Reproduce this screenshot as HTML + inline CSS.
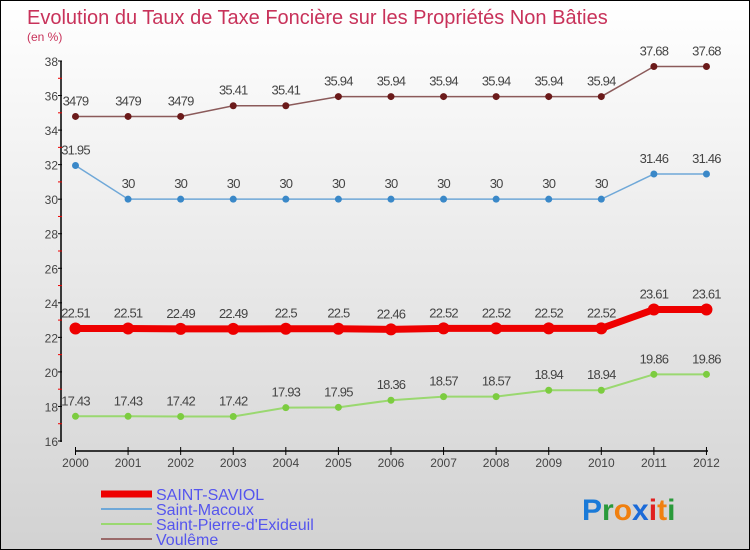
<!DOCTYPE html>
<html><head><meta charset="utf-8"><style>
body{margin:0}
#c{position:relative;width:748px;height:548px;border:1px solid #000;background:linear-gradient(#fff,#d2d2d2);font-family:"Liberation Sans",sans-serif;overflow:hidden}
</style></head><body>
<div id="c">
<svg id="s" width="748" height="548"></svg>
</div>
<script>
const years=[2000,2001,2002,2003,2004,2005,2006,2007,2008,2009,2010,2011,2012];
const saintSaviol=[22.51,22.51,22.49,22.49,22.5,22.5,22.46,22.52,22.52,22.52,22.52,23.61,23.61];
const saintMacoux=[31.95,30,30,30,30,30,30,30,30,30,30,31.46,31.46];
const saintPierre=[17.43,17.43,17.42,17.42,17.93,17.95,18.36,18.57,18.57,18.94,18.94,19.86,19.86];
const vouleme=[34.79,34.79,34.79,35.41,35.41,35.94,35.94,35.94,35.94,35.94,35.94,37.68,37.68];
const yTicks=[16,18,20,22,24,26,28,30,32,34,36,38];
const labels={s:["22.51","22.51","22.49","22.49","22.5","22.5","22.46","22.52","22.52","22.52","22.52","23.61","23.61"],
m:["31.95","30","30","30","30","30","30","30","30","30","30","31.46","31.46"],
p:["17.43","17.43","17.42","17.42","17.93","17.95","18.36","18.57","18.57","18.94","18.94","19.86","19.86"],
v:["3479","3479","3479","35.41","35.41","35.94","35.94","35.94","35.94","35.94","35.94","37.68","37.68"]};
const NS="http://www.w3.org/2000/svg",svg=document.getElementById('s');
const X=i=>74.5+i*52.58, Y=v=>440-(v-16)*(380/22);
function el(t,a,p){const e=document.createElementNS(NS,t);for(const k in a)e.setAttribute(k,a[k]);(p||svg).appendChild(e);return e;}
function tx(x,y,s,a){const e=el('text',Object.assign({x:x,y:y},a));e.textContent=s;return e;}
let t=tx(26,23,"Evolution du Taux de Taxe Foncière sur les Propriétés Non Bâties",{fill:"#c8325a","font-size":"20"});


t=tx(26,40,"(en %)",{fill:"#c8325a","font-size":"12"});


let ax=el('line',{x1:60,y1:60,x2:60,y2:441,stroke:"#000","stroke-width":1.5});


yTicks.forEach((v,i)=>{el('line',{x1:57,x2:61,y1:Y(v),y2:Y(v),stroke:"#000"});
 if(i<yTicks.length-1)el('line',{x1:57,x2:61,y1:Y(v+1),y2:Y(v+1),stroke:"#e00"});
 const l=tx(57,Y(v)+5,v,{"text-anchor":"end","font-size":"12",fill:"#444"});
 
 });
ax=el('line',{x1:74,y1:450,x2:707,y2:450,stroke:"#000","stroke-width":1.5});


years.forEach((y,i)=>{el('line',{x1:X(i),x2:X(i),y1:446,y2:454,stroke:"#000"});
 const l=tx(X(i),466,y,{"text-anchor":"middle","font-size":"12",fill:"#444"});
 
 });
function series(data,lab,col,dot,w,r,name){
 const g=el('g',{});
 
 
 el('polyline',{points:data.map((v,i)=>X(i)+","+Y(v)).join(" "),fill:"none",stroke:col,"stroke-width":w},g);
 data.forEach((v,i)=>{const c=el('circle',{cx:X(i),cy:Y(v),r:r,fill:dot},g);
  
  
  tx(X(i),Y(v)-11,lab[i],{"text-anchor":"middle","font-size":"13",fill:"#444","letter-spacing":"-0.8"},g);});
}
series(vouleme,labels.v,"#8b5a5a","#6b1a1a",1.5,3.5,"vouleme");
series(saintMacoux,labels.m,"#6fa8d8","#3a88c8",1.5,3.5,"saint-macoux");
series(saintPierre,labels.p,"#9ad870","#7ccc40",2,3.5,"saint-pierre");
series(saintSaviol,labels.s,"#ee0000","#ee0000",7,6,"saint-saviol");
const leg=[["SAINT-SAVIOL","#ee0000",7],["Saint-Macoux","#6fa8d8",2],["Saint-Pierre-d'Exideuil","#9ad870",2],["Voulême","#9a6a6a",2]];
leg.forEach((l,i)=>{const g=el('g',{});
 
 
 const y=493+i*15;
 el('line',{x1:100,x2:151,y1:y,y2:y,stroke:l[1],"stroke-width":l[2]},g);
 tx(155,y+6,l[0],{"font-size":"16",fill:"#5555ee"},g);});
const logo=el('text',{x:581,y:519,"font-size":"30","font-weight":"bold"});


[["P","#1a7ad8"],["r","#2a9a3a"],["o","#f08010"],["x","#1a6ad8"],["i","#e02020"],["t","#f08010"],["i","#2a9a3a"]].forEach(c=>{const s=el('tspan',{fill:c[1]},logo);s.textContent=c[0];});
</script>
</body></html>
